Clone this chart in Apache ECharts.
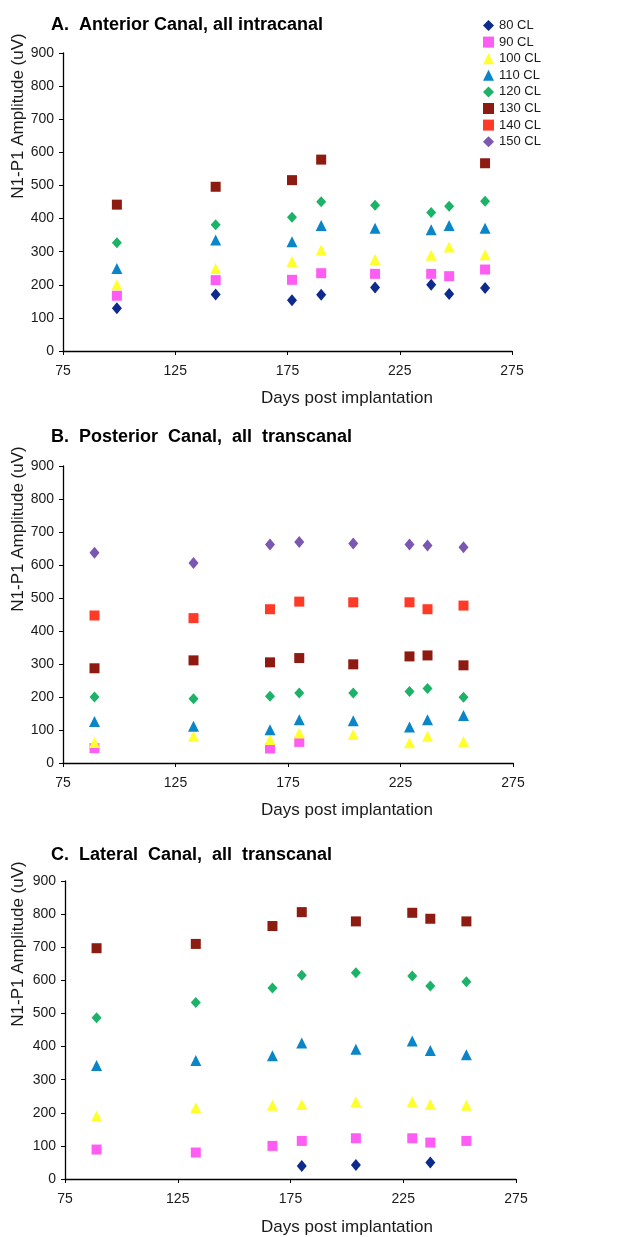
<!DOCTYPE html>
<html>
<head>
<meta charset="utf-8">
<script src="https://cdn.jsdelivr.net/npm/echarts@6/dist/echarts.min.js"></script>
<style>
  html, body { margin: 0; background: #fff; }
  #chart { width: 636px; height: 1237px; }
</style>
</head>
<body>
<div id="chart"></div>
<script>
// Click levels, one row per level in every amplitude table below
const levels = ['80 CL', '90 CL', '100 CL', '110 CL', '120 CL', '130 CL', '140 CL', '150 CL']
const xTicks = [75, 125, 175, 225, 275]

// A. Anterior canal (intracanal)
const daysA = [99, 143, 177, 190, 214, 239, 247, 263]
const ampA = [
  [129, 171, 153, 170, 192, 200, 172, 190],
  [167, 214, 215, 235, 233, 233, 226, 246],
  [200, 249, 270, 305, 276, 289, 314, 291],
  [249, 335, 330, 379, 371, 366, 379, 371],
  [327, 381, 404, 451, 440, 418, 437, 452],
  [442, 496, 516, 578, null, null, null, 567],
  [null, null, null, null, null, null, null, null],
  [null, null, null, null, null, null, null, null]
]

// B. Posterior canal (transcanal)
const daysB = [89, 133, 167, 180, 204, 229, 237, 253]
const ampB = [
  [null, null, null, null, null, null, null, null],
  [45, null, 44, 64, null, null, null, null],
  [62, 81, 71, 91, 86, 61, 81, 65],
  [126, 111, 101, 131, 128, 109, 131, 144],
  [200, 195, 202, 212, 212, 217, 226, 199],
  [287, 311, 305, 318, 299, 323, 326, 296],
  [447, 439, 466, 489, 487, 487, 466, 477],
  [637, 606, 662, 670, 665, 662, 659, 654]
]

// C. Lateral canal (transcanal)
const daysC = [89, 133, 167, 180, 204, 229, 237, 253]
const ampC = [
  [null, null, null, 39, 42, null, 50, null],
  [89, 80, 100, 115, 123, 123, 110, 115],
  [190, 215, 223, 225, 233, 233, 225, 223],
  [343, 358, 372, 411, 392, 417, 388, 375],
  [487, 533, 577, 615, 623, 613, 583, 596],
  [697, 710, 764, 806, 778, 804, 786, 778],
  [null, null, null, null, null, null, null, null],
  [null, null, null, null, null, null, null, null]
]

const colors = ['#0d2a8c', '#ff5cf4', '#ffff2e', '#0a86c8', '#1cb268', '#8e1b12', '#ff3b28', '#7b57b2']
const symbols = ['diamond', 'rect', 'triangle', 'triangle', 'diamond', 'rect', 'rect', 'diamond']
const sizes = [[10, 12], 10, [11, 11], [11, 11], [10, 11], 10, 10, [10, 12]]

const font = '"Liberation Sans", Arial, sans-serif'
const textColor = '#1a1a1a'

const panels = [
  { title: 'A.  Anterior Canal, all intracanal', days: daysA, amp: ampA,
    grid: { left: 63, top: 53, width: 449, height: 298 }, titleTop: 11, yName: 116, xName: 398 },
  { title: 'B.  Posterior  Canal,  all  transcanal', days: daysB, amp: ampB,
    grid: { left: 63, top: 466, width: 450, height: 297 }, titleTop: 423, yName: 529, xName: 810 },
  { title: 'C.  Lateral  Canal,  all  transcanal', days: daysC, amp: ampC,
    grid: { left: 65, top: 881, width: 451, height: 298 }, titleTop: 841, yName: 944, xName: 1227 }
]

function xAxisFor(i) {
  return {
    gridIndex: i, type: 'value', min: xTicks[0], max: xTicks[xTicks.length - 1], interval: 50,
    axisLine: { onZero: false, lineStyle: { color: '#000', width: 1.3 } },
    axisTick: { show: true, length: 4, lineStyle: { color: '#000' } },
    axisLabel: { margin: 13, color: textColor, fontFamily: font, fontSize: 14 },
    splitLine: { show: false }
  }
}

function yAxisFor(i) {
  return {
    gridIndex: i, type: 'value', min: 0, max: 900, interval: 100,
    axisLine: { show: true, lineStyle: { color: '#000', width: 1.3 } },
    axisTick: { show: true, length: 4, lineStyle: { color: '#000' } },
    axisLabel: { margin: 9, color: textColor, fontFamily: font, fontSize: 14 },
    splitLine: { show: false }
  }
}

const series = []
panels.forEach((p, pi) => {
  levels.forEach((name, li) => {
    const data = []
    p.days.forEach((d, k) => {
      if (p.amp[li][k] != null) data.push([d, p.amp[li][k]])
    })
    series.push({
      name, type: 'scatter', xAxisIndex: pi, yAxisIndex: pi,
      symbol: symbols[li], symbolSize: sizes[li],
      itemStyle: { color: colors[li], opacity: 1 },
      data
    })
  })
})

const graphic = []
panels.forEach(p => {
  graphic.push({
    type: 'text', x: 18, y: p.yName, rotation: Math.PI / 2,
    style: { text: 'N1-P1 Amplitude (uV)', fill: textColor, font: '17px ' + font, align: 'center', verticalAlign: 'middle' }
  })
  graphic.push({
    type: 'text', x: 347, y: p.xName,
    style: { text: 'Days post implantation', fill: textColor, font: '17px ' + font, align: 'center', verticalAlign: 'middle' }
  })
})

const chart = echarts.init(document.getElementById('chart'), null, { renderer: 'canvas' })
chart.setOption({
  animation: false,
  backgroundColor: '#fff',
  title: panels.map(p => ({
    text: p.title, left: 46, top: p.titleTop,
    textStyle: { fontFamily: font, fontSize: 18, fontWeight: 'bold', color: '#000' }
  })),
  legend: {
    orient: 'vertical', left: 478, top: 14,
    itemWidth: 11, itemHeight: 11, itemGap: 3.6,
    data: levels,
    textStyle: { fontFamily: font, fontSize: 13, color: textColor }
  },
  grid: panels.map(p => p.grid),
  xAxis: panels.map((p, i) => xAxisFor(i)),
  yAxis: panels.map((p, i) => yAxisFor(i)),
  graphic,
  series
})
</script>
</body>
</html>
